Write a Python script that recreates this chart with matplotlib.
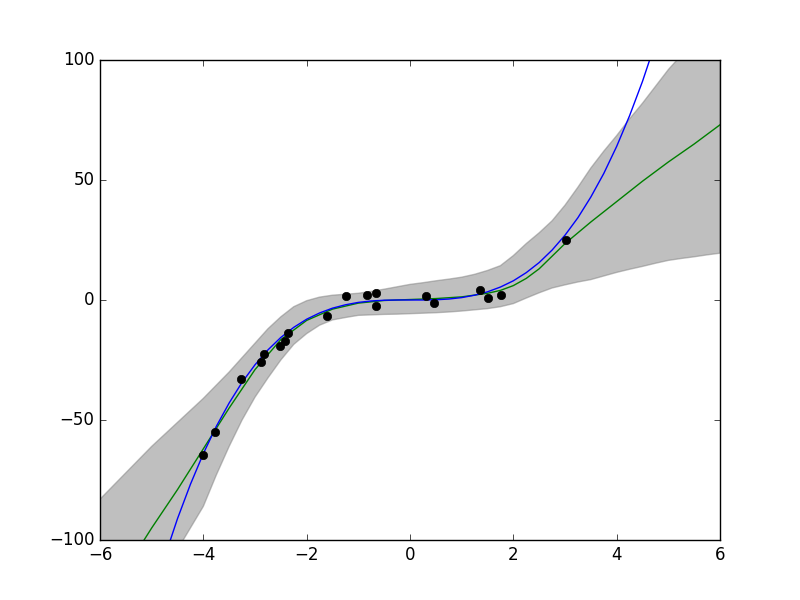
import numpy as np
from matplotlib import pyplot as plt

plt.style.use('classic')

# observed points
obs_x = [-4.0, -3.77, -3.27, -2.88, -2.82, -2.52, -2.42, -2.37, -1.6, -1.24,
         -0.84, -0.65, -0.66, 0.31, 0.46, 1.36, 1.5, 1.77, 3.02]
obs_y = [-64.6, -55.1, -33.0, -26.0, -22.5, -19.2, -17.0, -13.6, -6.7, 1.8,
         2.0, 2.8, -2.5, 1.8, -1.4, 4.2, 1.0, 1.9, 25.0]

# true function (blue)
true_x = [-4.75, -4.5, -4.25, -4.0, -3.75, -3.5, -3.25, -3.0, -2.75, -2.5,
          -2.25, -2.0, -1.75, -1.5, -1.25, -1.0, -0.75, -0.5, -0.25, 0.0,
          0.25, 0.5, 0.75, 1.0, 1.25, 1.5, 1.75, 2.0, 2.25, 2.5,
          2.75, 3.0, 3.25, 3.5, 3.75, 4.0, 4.25, 4.5, 4.75]
true_y = [-107.2, -91.1, -76.8, -64.0, -52.7, -42.9, -34.3, -27.0, -20.8, -15.6,
          -11.4, -8.0, -5.4, -3.4, -2.0, -1.0, -0.4, -0.1, 0.0, 0.0,
          0.0, 0.1, 0.4, 1.0, 2.0, 3.4, 5.4, 8.0, 11.4, 15.6,
          20.8, 27.0, 34.3, 42.9, 52.7, 64.0, 76.8, 91.1, 107.2]

# predictive mean (green)
mean_x = [-6.0, -5.5, -5.0, -4.5, -4.0, -3.5, -3.0, -2.5, -2.0, -1.5, -1.0, -0.5,
          0.0, 0.5, 1.0, 1.5, 1.75, 2.0, 2.25, 2.5, 3.0, 3.5, 4.0, 4.5, 5.0, 5.5, 6.0]
mean_y = [-128, -112, -95, -79, -62, -45, -29, -16.5, -8.5, -3.8, -1.3, -0.2,
          0.2, 0.6, 1.3, 2.8, 4.0, 6.0, 9.0, 13.0, 23.5, 32.5, 41.0, 49.5, 57.5, 65.0, 73.0]

# uncertainty band (grey)
band_x = [-6.0, -5.75, -5.5, -5.25, -5.0, -4.75, -4.5, -4.25, -4.0, -3.75,
          -3.5, -3.25, -3.0, -2.75, -2.5, -2.25, -2.0, -1.75, -1.5, -1.25,
          -1.0, -0.75, -0.5, -0.25, 0.0, 0.25, 0.5, 0.75, 1.0, 1.25,
          1.5, 1.75, 2.0, 2.25, 2.5, 2.75, 3.0, 3.25, 3.5, 3.75,
          4.0, 4.25, 4.5, 4.75, 5.0, 5.25, 5.5, 5.75, 6.0]
band_upper = [-83, -77.5, -72, -66.5, -61, -56, -51, -46, -41, -35.5,
              -30, -24, -18, -12, -7, -2.8, -0.3, 1.2, 2.0, 2.4,
              2.8, 3.6, 4.5, 5.5, 6.5, 7.2, 8.0, 8.7, 9.5, 10.7,
              12.3, 14.3, 18.5, 23.5, 28, 33, 39.5, 47, 55, 62,
              68.5, 75.5, 82, 89, 96, 102, 108, 114, 120]
band_lower = [-170, -159, -148, -136.5, -125, -114.5, -104, -95, -86, -73,
              -61, -50, -40.5, -32.5, -25, -18.5, -14, -10.5, -8.3, -7.3,
              -6.4, -6.2, -6.0, -5.9, -5.7, -5.5, -5.3, -5.0, -4.6, -4.1,
              -3.6, -2.8, -1.5, 0.8, 3.0, 5.0, 6.3, 7.5, 8.5, 10,
              11.5, 12.8, 14, 15.3, 16.5, 17.3, 18, 18.8, 19.5]

fig = plt.figure(figsize=(8, 6), dpi=100)
ax = fig.add_subplot(111)
ax.fill_between(band_x, band_lower, band_upper, color='grey', alpha=0.5)
ax.plot(mean_x, mean_y, 'g-')
ax.plot(true_x, true_y, 'b-')
ax.plot(obs_x, obs_y, 'ko')
ax.set_xlim(-6, 6)
ax.set_ylim(-100, 100)

plt.savefig('out.png', dpi=100, facecolor='white')
